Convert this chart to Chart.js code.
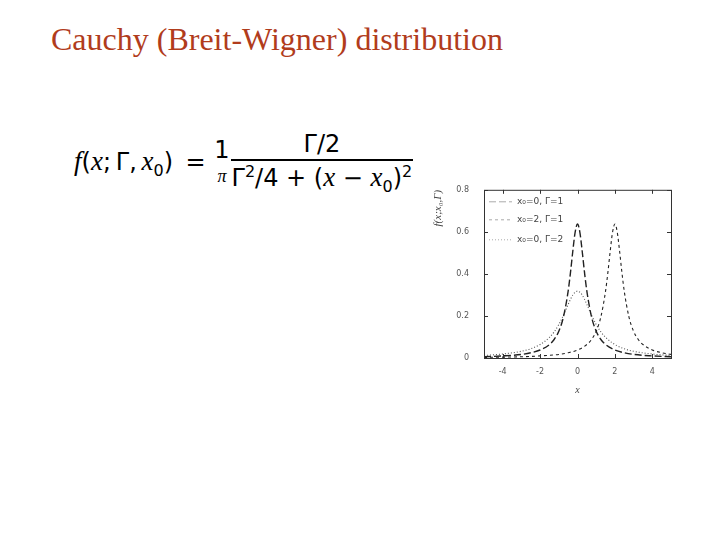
<!DOCTYPE html>
<html>
<head>
<meta charset="utf-8">
<script src="https://cdn.jsdelivr.net/npm/chart.js@4/dist/chart.umd.min.js"></script>
<style>
  body { margin: 0; width: 720px; height: 540px; background: #fff; position: relative; overflow: hidden; }
  #title { position: absolute; left: 51px; top: 21px; font-family: "Liberation Serif", serif; font-size: 32px; color: #b13c1c; white-space: nowrap; }
  #formula { position: absolute; left: 74px; top: 130px; font-family: "DejaVu Sans", sans-serif; font-size: 24px; color: #000; display: flex; align-items: center; white-space: nowrap; }
  .it { font-family: "Liberation Serif", serif; font-style: italic; font-size: 27px; }
  .frac { display: inline-flex; flex-direction: column; align-items: center; margin: 0; }
  .frac .num { padding: 0 1px 1px; }
  .frac .den { border-top: 2px solid #000; padding: 1px 1px 0; }
  .small .den { border-top: none; }
  .sb { font-size: 16px; position: relative; top: 6px; }
  .sp { font-size: 16px; position: relative; top: -9px; }
  #wrap { position: absolute; left: 432px; top: 178px; width: 244px; height: 222px; }
</style>
</head>
<body>
<div id="title">Cauchy (Breit-Wigner) distribution</div>
<div id="formula">
  <span><span class="it">f</span>(<span class="it">x</span>;&thinsp;Γ,&thinsp;<span class="it">x</span><span class="sb">0</span>)&nbsp;&thinsp;=&nbsp;</span>
  <span class="frac small"><span class="num">1</span><span class="den" style="font-family:'Liberation Serif',serif;font-style:italic;font-size:18px;">π</span></span>
  <span class="frac"><span class="num">Γ/2</span><span class="den">Γ<span class="sp">2</span>/4 + (<span class="it">x</span> − <span class="it">x</span><span class="sb">0</span>)<span class="sp">2</span></span></span>
</div>
<div id="wrap"><canvas id="chart"></canvas></div>
<script>
// curve x0=0, Γ=1
const xA = [-5, -4, -3, -2.5, -2, -1.5, -1.25, -1, -0.75, -0.5, -0.375, -0.25, -0.125, 0,
            0.125, 0.25, 0.375, 0.5, 0.75, 1, 1.25, 1.5, 2, 2.5, 3, 4, 5];
const yA = [0.006, 0.010, 0.017, 0.025, 0.038, 0.064, 0.088, 0.127, 0.196, 0.318, 0.407, 0.509, 0.599, 0.637,
            0.599, 0.509, 0.407, 0.318, 0.196, 0.127, 0.088, 0.064, 0.038, 0.025, 0.017, 0.010, 0.006];
// curve x0=2, Γ=1
const xB = [-5, -4, -3, -2, -1, -0.5, 0, 0.5, 0.75, 1, 1.25, 1.5, 1.625, 1.75, 1.875, 2,
            2.125, 2.25, 2.375, 2.5, 2.75, 3, 3.25, 3.5, 4, 4.5, 5];
const yB = [0.003, 0.004, 0.006, 0.010, 0.017, 0.025, 0.038, 0.064, 0.088, 0.127, 0.196, 0.318, 0.407, 0.509, 0.599, 0.637,
            0.599, 0.509, 0.407, 0.318, 0.196, 0.127, 0.088, 0.064, 0.038, 0.025, 0.017];
// curve x0=0, Γ=2
const xC = [-5, -4, -3, -2.5, -2, -1.5, -1.25, -1, -0.75, -0.5, -0.375, -0.25, -0.125, 0,
            0.125, 0.25, 0.375, 0.5, 0.75, 1, 1.25, 1.5, 2, 2.5, 3, 4, 5];
const yC = [0.012, 0.019, 0.032, 0.044, 0.064, 0.098, 0.124, 0.159, 0.204, 0.255, 0.279, 0.300, 0.313, 0.318,
            0.313, 0.300, 0.279, 0.255, 0.204, 0.159, 0.124, 0.098, 0.064, 0.044, 0.032, 0.019, 0.012];

const seriesLabels = ['x₀=0, Γ=1', 'x₀=2, Γ=1', 'x₀=0, Γ=2'];
const xTicks = [-4, -2, 0, 2, 4];
const yTicks = [0, 0.2, 0.4, 0.6, 0.8];

function pts(xs, ys) {
    return xs.map((x, i) => ({ x: x, y: ys[i] }));
}

const dashes = [[7, 3], [3, 3], [1, 2]];

// gnuplot style: box around plot, inward ticks, legend inside top-left
const framePlugin = {
    id: 'frame',
    afterDraw(chart) {
        const ctx = chart.ctx;
        const a = chart.chartArea;
        const xs = chart.scales.x, ys = chart.scales.y;
        ctx.save();
        ctx.strokeStyle = '#333';
        ctx.lineWidth = 1;
        ctx.strokeRect(a.left + 0.5, a.top + 0.5, a.right - a.left, a.bottom - a.top);
        ctx.beginPath();
        xTicks.forEach(v => {
            const px = Math.round(xs.getPixelForValue(v)) + 0.5;
            ctx.moveTo(px, a.bottom); ctx.lineTo(px, a.bottom - 4);
            ctx.moveTo(px, a.top); ctx.lineTo(px, a.top + 4);
        });
        yTicks.forEach(v => {
            const py = Math.round(ys.getPixelForValue(v)) + 0.5;
            ctx.moveTo(a.left, py); ctx.lineTo(a.left + 4, py);
            ctx.moveTo(a.right, py); ctx.lineTo(a.right - 4, py);
        });
        ctx.stroke();

        // legend
        ctx.font = '9px "DejaVu Sans"';
        ctx.fillStyle = '#444';
        ctx.textBaseline = 'middle';
        const rowY = [12, 30, 50];
        chart.data.datasets.forEach((ds, i) => {
            const y = a.top + rowY[i];
            ctx.setLineDash(dashes[i]);
            ctx.strokeStyle = '#aaa';
            ctx.beginPath();
            ctx.moveTo(a.left + 5, y); ctx.lineTo(a.left + 28, y);
            ctx.stroke();
            ctx.fillText(ds.label, a.left + 33, y);
        });
        ctx.restore();
    }
};

new Chart(document.getElementById('chart'), {
    type: 'scatter',
    data: {
        datasets: [
            { label: seriesLabels[0], data: pts(xA, yA) },
            { label: seriesLabels[1], data: pts(xB, yB) },
            { label: seriesLabels[2], data: pts(xC, yC) }
        ].map((d, i) => Object.assign(d, {
            showLine: true,
            pointRadius: 0,
            borderColor: i === 2 ? '#555' : '#222',
            borderWidth: i === 0 ? 1.4 : 1.1,
            borderDash: dashes[i],
            cubicInterpolationMode: 'monotone',
            fill: false
        }))
    },
    options: {
        responsive: true,
        maintainAspectRatio: false,
        animation: false,
        layout: { padding: { top: 5, right: 5, left: 0, bottom: 0 } },
        plugins: { legend: { display: false }, tooltip: { enabled: false } },
        scales: {
            x: {
                type: 'linear', min: -5, max: 5,
                afterBuildTicks: s => { s.ticks = xTicks.map(v => ({ value: v })); },
                afterFit: s => { s.height = 42; },
                grid: { display: false },
                border: { display: false },
                ticks: { color: '#555', font: { size: 8, family: 'DejaVu Sans' }, padding: 1 },
                title: { display: true, text: 'x', color: '#444', padding: { top: 8 },
                         font: { size: 10, style: 'italic', family: 'Liberation Serif' } }
            },
            y: {
                min: 0, max: 0.8,
                afterBuildTicks: s => { s.ticks = yTicks.map(v => ({ value: v })); },
                afterFit: s => { s.width = 52; },
                grid: { display: false },
                border: { display: false },
                ticks: { color: '#555', font: { size: 8, family: 'DejaVu Sans' }, padding: 7,
                         callback: v => v === 0 ? '0' : v.toFixed(1) },
                title: { display: true, text: 'f(x;x₀,Γ)', align: 'end', color: '#444', padding: 0,
                         font: { size: 11, style: 'italic', family: 'Liberation Serif' } }
            }
        }
    },
    plugins: [framePlugin]
});
</script>
</body>
</html>
